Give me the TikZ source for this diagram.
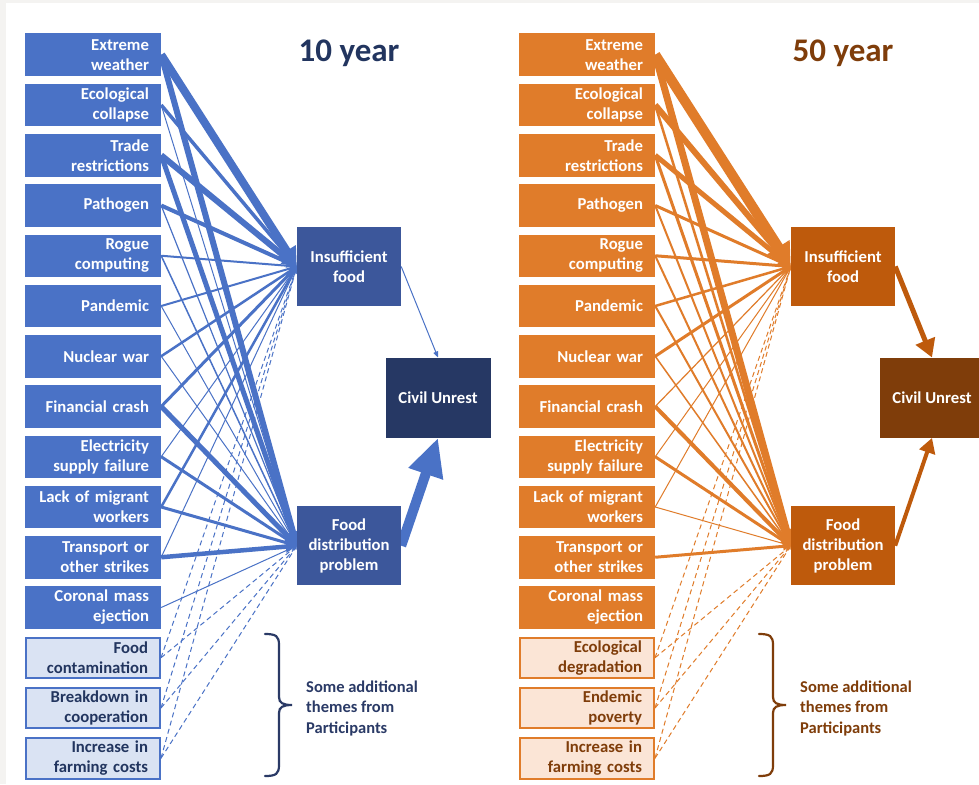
\documentclass[tikz,border=0pt]{standalone}
\usepackage{fontspec}
\setmainfont{Carlito}
\usetikzlibrary{arrows.meta}
\pgfdeclarelayer{background}
\pgfsetlayers{background,main}
\definecolor{frame}{HTML}{F4F3F1}
\definecolor{bl}{HTML}{4A72C6}
\definecolor{blD}{HTML}{3C579B}
\definecolor{blC}{HTML}{263864}
\definecolor{blL}{HTML}{DAE3F3}
\definecolor{blT}{HTML}{22355F}
\definecolor{bt}{HTML}{2A3A66}
\definecolor{og}{HTML}{E07C2A}
\definecolor{ogD}{HTML}{BE5A0C}
\definecolor{ogC}{HTML}{7F3D0A}
\definecolor{ogL}{HTML}{FBE5D6}
\definecolor{ogT}{HTML}{7F3D0A}
\tikzset{
  boxfont/.style={font=\bfseries\fontsize{16.7}{20}\selectfont},
  src/.style={boxfont, fill=#1, text=white, text width=112pt, inner xsep=12pt, inner ysep=0pt,
    align=right, minimum height=42.5pt},
  extra/.style 2 args={boxfont, fill=#1, draw=#2, line width=2pt, text width=110pt, inner xsep=12pt,
    inner ysep=0pt, align=right, minimum height=40.5pt},
  hub/.style={boxfont, fill=#1, text=white, align=center, minimum width=104pt, minimum height=79pt, inner sep=0pt},
  cubox/.style={boxfont, fill=#1, text=white, align=center, minimum width=105pt, minimum height=80pt, inner sep=0pt},
  lkA/.style={draw=bl, line width=#1pt, -{Triangle[length=1pt 2.2,width=1pt 2.4]}},
  lkB/.style={draw=og, line width=#1pt, -{Triangle[length=1pt 2.2,width=1pt 2.4]}},
  dshA/.style={draw=bl, line width=1pt, dash pattern=on 5pt off 3.5pt, -{Triangle[length=3.5pt,width=3.5pt]}},
  dshB/.style={draw=og, line width=1pt, dash pattern=on 5pt off 3.5pt, -{Triangle[length=3.5pt,width=3.5pt]}},
  brace/.style={draw=#1, line width=2.2pt, line cap=round},
  title/.style={font=\bfseries\fontsize{33}{40}\selectfont, anchor=base},
  note/.style={font=\bfseries\fontsize{16.5}{20.5}\selectfont, align=left, anchor=west, inner sep=0pt}
}
\begin{document}
\begin{tikzpicture}[x=1pt,y=-1pt]
\useasboundingbox (0,0) rectangle (979,784);
\begin{pgfonlayer}{background}
\fill[frame] (0,0) rectangle (979,784);
\fill[white] (6,3.5) rectangle (979,784);
\end{pgfonlayer}

% ---------- 10 year panel ----------
\foreach \t [count=\i] in {{Extreme\\weather},{Ecological\\collapse},{Trade\\restrictions},{Pathogen},
  {Rogue\\computing},{Pandemic},{Nuclear war},{Financial crash},{Electricity\\supply failure},
  {Lack of migrant\\workers},{Transport or\\other strikes},{Coronal mass\\ejection}}{
  \pgfmathsetmacro\yy{54.75+50.25*(\i-1)}
  \node[src=bl] (A\i) at (93,\yy) {\t};
}
\node[extra={blL}{bl}, text=blT] (A13) at (93,657.75) {Food\\contamination};
\node[extra={blL}{bl}, text=blT] (A14) at (93,708) {Breakdown in\\cooperation};
\node[extra={blL}{bl}, text=blT] (A15) at (93,758.25) {Increase in\\farming costs};
\node[hub=blD] (AIF) at (349,266.5) {Insufficient\\food};
\node[hub=blD] (AFD) at (349,545.7) {Food\\distribution\\problem};
\node[cubox=blC] (ACU) at (438,397.7) {Civil Unrest};
\node[title, text=blT] (AT) at (349,62) {10 year};
\node[note, text=bt] (AN) at (306,708) {Some additional\\themes from\\Participants};
\coordinate (AB1) at (265,634);
\coordinate (AB2) at (292,705);
\coordinate (AB3) at (265,776);

\begin{pgfonlayer}{background}
\foreach \s/\a/\b in {1/8/6, 2/3.5/1, 3/6/5, 4/4/1.2, 5/2/1.5, 6/2/1, 7/2.5/1, 8/3/5,
  9/1/3, 10/2.5/3, 11/1/4.5, 12/0/1}{
  \ifdim\a pt>0pt \draw[lkA=\a] (A\s.east) -- (AIF.west); \fi
  \ifdim\b pt>0pt \draw[lkA=\b] (A\s.east) -- (AFD.west); \fi
}
\foreach \s in {13,14,15}{
  \draw[dshA] (A\s.east) -- (AIF.west);
  \draw[dshA] (A\s.east) -- (AFD.west);
}
\draw[bl, line width=1pt, -{Triangle[length=6pt,width=5pt]}] (AIF.east) -- (ACU.north);
\draw[bl, line width=10pt, -{Triangle[length=38pt,width=34pt]}] (AFD.east) -- (ACU.south);
\end{pgfonlayer}
\draw[brace=bt] (AB1) .. controls (276,634) and (279,636) .. (279,645) -- (279,697)
  .. controls (279,703) and (283,705) .. (AB2) .. controls (283,705) and (279,707) .. (279,713)
  -- (279,765) .. controls (279,774) and (276,776) .. (AB3);

% ---------- 50 year panel ----------
\foreach \t [count=\i] in {{Extreme\\weather},{Ecological\\collapse},{Trade\\restrictions},{Pathogen},
  {Rogue\\computing},{Pandemic},{Nuclear war},{Financial crash},{Electricity\\supply failure},
  {Lack of migrant\\workers},{Transport or\\other strikes},{Coronal mass\\ejection}}{
  \pgfmathsetmacro\yy{54.75+50.25*(\i-1)}
  \node[src=og] (B\i) at (587,\yy) {\t};
}
\node[extra={ogL}{og}, text=ogT] (B13) at (587,657.75) {Ecological\\degradation};
\node[extra={ogL}{og}, text=ogT] (B14) at (587,708) {Endemic\\poverty};
\node[extra={ogL}{og}, text=ogT] (B15) at (587,758.25) {Increase in\\farming costs};
\node[hub=ogD] (BIF) at (843,266.5) {Insufficient\\food};
\node[hub=ogD] (BFD) at (843,545.7) {Food\\distribution\\problem};
\node[cubox=ogC] (BCU) at (932,397.7) {Civil Unrest};
\node[title, text=ogT] (BT) at (843,62) {50 year};
\node[note, text=ogT] (BN) at (800,708) {Some additional\\themes from\\Participants};
\coordinate (BB1) at (759,634);
\coordinate (BB2) at (786,705);
\coordinate (BB3) at (759,776);

\begin{pgfonlayer}{background}
\foreach \s/\a/\b in {1/10/7, 2/6/2.5, 3/5/3, 4/3/2, 5/3/2, 6/2.5/2, 7/3/1.5, 8/1.2/4,
  9/1/3, 10/1/1, 11/0/3}{
  \ifdim\a pt>0pt \draw[lkB=\a] (B\s.east) -- (BIF.west); \fi
  \ifdim\b pt>0pt \draw[lkB=\b] (B\s.east) -- (BFD.west); \fi
}
\foreach \s in {13,14,15}{
  \draw[dshB] (B\s.east) -- (BIF.west);
  \draw[dshB] (B\s.east) -- (BFD.west);
}
\draw[ogD, line width=5pt, -{Triangle[length=18pt,width=20pt]}] (BIF.east) -- (BCU.north);
\draw[ogD, line width=4pt, -{Triangle[length=15pt,width=16pt]}] (BFD.east) -- (BCU.south);
\end{pgfonlayer}
\draw[brace=ogT] (BB1) .. controls (770,634) and (773,636) .. (773,645) -- (773,697)
  .. controls (773,703) and (777,705) .. (BB2) .. controls (777,705) and (773,707) .. (773,713)
  -- (773,765) .. controls (773,774) and (770,776) .. (BB3);
\end{tikzpicture}
\end{document}
